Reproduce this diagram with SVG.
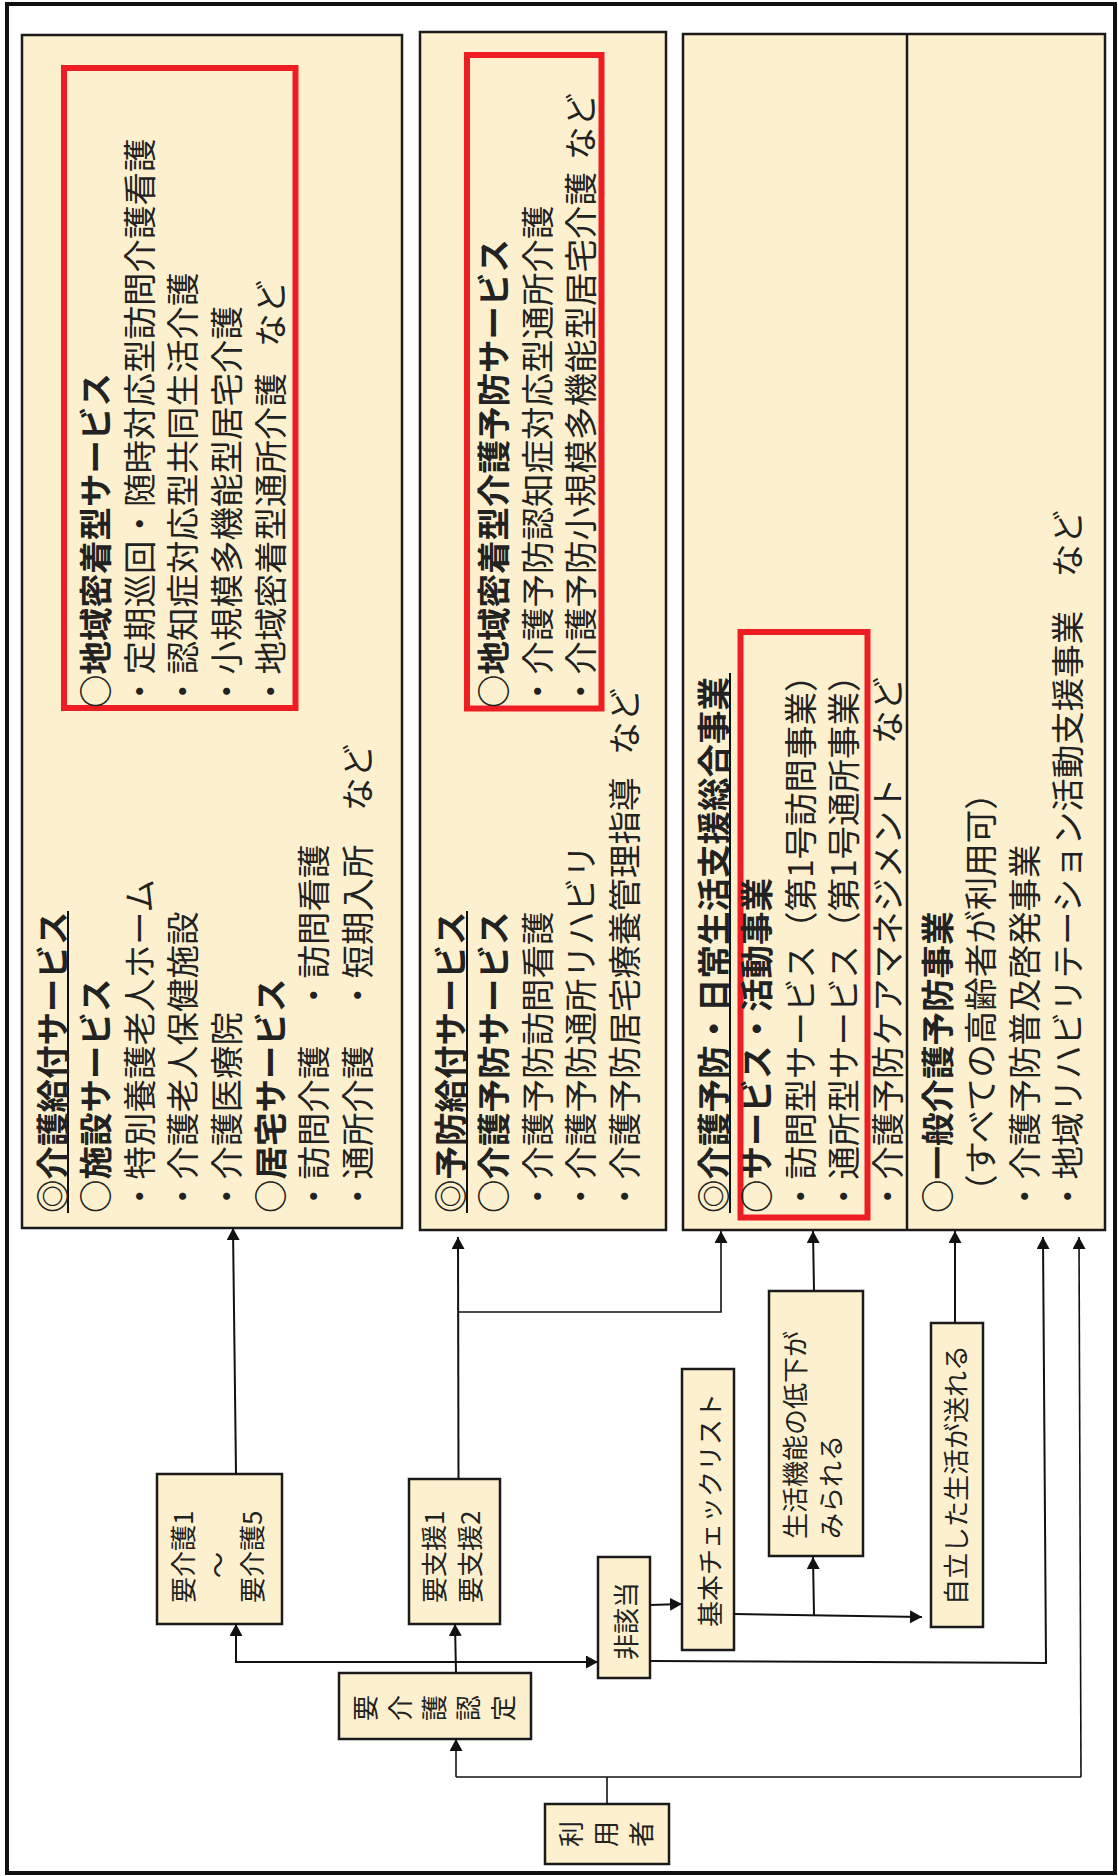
<svg xmlns="http://www.w3.org/2000/svg" width="1118" height="1876" viewBox="0 0 1118 1876">
<style>
.box{fill:#FCF0CE;stroke:#1a1a1a;stroke-width:2.5}
.red{fill:none;stroke:#EE1D23;stroke-width:6}
.t{font-family:"Noto Sans CJK JP","Noto Sans CJK SC",sans-serif;fill:#222}
.big{font-size:33.5px}
.sm{font-size:26px}
.b{font-weight:700}
.ul{stroke:#111;stroke-width:2}
#connectors path{fill:none;stroke:#111;stroke-width:2}
#connectors path.thin{stroke-width:1.6}
</style>
<defs>
<marker id="ah" viewBox="0 0 12 13" refX="12" refY="6.5" markerWidth="12" markerHeight="13" markerUnits="userSpaceOnUse" orient="auto"><path d="M0,0 L12,6.5 L0,13 z" fill="#111"/></marker>
</defs>
<rect x="0" y="0" width="1118" height="1876" fill="#fff"/>
<rect id="frame" x="7" y="4" width="1108" height="1869" fill="none" stroke="#111" stroke-width="4"/>

<g id="node-kaigo-kyufu">
<rect class="box" x="22" y="35" width="380" height="1193"/>
<rect class="red" x="64" y="68" width="231.5" height="640"/>
<line class="ul" x1="68" y1="911" x2="68" y2="1213"/>
<g transform="matrix(0,-1,1,0,0,1876)" class="t big">
<text x="663" y="64.5" class="b">◎介護給付サービス</text>
<text x="663" y="108.1" class="b">○施設サービス</text>
<text x="663" y="151.7">・特別養護老人ホーム</text>
<text x="663" y="195.3">・介護老人保健施設</text>
<text x="663" y="238.9">・介護医療院</text>
<text x="663" y="282.5" class="b">○居宅サービス</text>
<text x="663" y="326.1">・訪問介護　・訪問看護</text>
<text x="663" y="369.7">・通所介護　・短期入所　など</text>
<text x="1168" y="108.1" class="b">○地域密着型サービス</text>
<text x="1168" y="151.7">・定期巡回・随時対応型訪問介護看護</text>
<text x="1168" y="195.3">・認知症対応型共同生活介護</text>
<text x="1168" y="238.9">・小規模多機能型居宅介護</text>
<text x="1168" y="282.5">・地域密着型通所介護<tspan x="1529">など</tspan></text>
</g>
</g>

<g id="node-yobo-kyufu">
<rect class="box" x="420" y="32" width="246" height="1198"/>
<rect class="red" x="467" y="55" width="134.5" height="653.5"/>
<line class="ul" x1="467" y1="911" x2="467" y2="1213"/>
<g transform="matrix(0,-1,1,0,0,1876)" class="t big">
<text x="663" y="462.5" class="b">◎予防給付サービス</text>
<text x="663" y="506.1" class="b">○介護予防サービス</text>
<text x="663" y="549.7">・介護予防訪問看護</text>
<text x="663" y="593.3">・介護予防通所リハビリ</text>
<text x="663" y="636.9">・介護予防居宅療養管理指導<tspan x="1121">など</tspan></text>
<text x="1168" y="506.1" class="b">○地域密着型介護予防サービス</text>
<text x="1168" y="549.7">・介護予防認知症対応型通所介護</text>
<text x="1168" y="593.3">・介護予防小規模多機能型居宅介護<tspan x="1716">など</tspan></text>
</g>
</g>

<g id="node-sogo-jigyo">
<rect class="box" x="683" y="34" width="422" height="1196"/>
<line x1="907" y1="34" x2="907" y2="1230" stroke="#1a1a1a" stroke-width="2.5"/>
<rect class="red" x="740.5" y="632" width="127" height="585.5"/>
<line class="ul" x1="730" y1="673" x2="730" y2="1213"/>
<g transform="matrix(0,-1,1,0,0,1876)" class="t big">
<text x="663" y="725.5" class="b">◎介護予防・日常生活支援総合事業</text>
<text x="663" y="769.1" class="b">○サービス・活動事業</text>
<text x="663" y="812.7">・訪問型サービス（第1号訪問事業）</text>
<text x="663" y="856.3">・通所型サービス（第1号通所事業）</text>
<text x="663" y="899.9">・介護予防ケアマネジメント　など</text>
<text x="663" y="949.5" class="b">○一般介護予防事業</text>
<text x="668" y="993.1">（すべての高齢者が利用可）</text>
<text x="663" y="1036.7">・介護予防普及啓発事業</text>
<text x="663" y="1080.3">・地域リハビリテーション活動支援事業　など</text>
</g>
</g>

<g id="node-yokaigo">
<rect class="box" x="157" y="1474" width="125" height="150"/>
<g transform="matrix(0,-1,1,0,0,1876)" class="t sm">
<text x="273" y="193">要介護1</text>
<text x="298" y="228">～</text>
<text x="273" y="262">要介護5</text>
</g>
</g>

<g id="node-yoshien">
<rect class="box" x="409" y="1479" width="91" height="145"/>
<g transform="matrix(0,-1,1,0,0,1876)" class="t sm">
<text x="273" y="444">要支援1</text>
<text x="273" y="480">要支援2</text>
</g>
</g>

<g id="node-nintei">
<rect class="box" x="339" y="1673" width="192" height="66"/>
<g transform="matrix(0,-1,1,0,0,1876)" class="t sm" text-anchor="middle">
<text x="168" y="375">要</text>
<text x="168" y="410">介</text>
<text x="168" y="444">護</text>
<text x="168" y="478">認</text>
<text x="168" y="513">定</text>
</g>
</g>

<g id="node-riyosha">
<rect class="box" x="545" y="1804" width="124" height="60"/>
<g transform="matrix(0,-1,1,0,0,1876)" class="t sm" text-anchor="middle">
<text x="42" y="581">利</text>
<text x="42" y="616">用</text>
<text x="42" y="651">者</text>
</g>
</g>

<g id="node-higaito">
<rect class="box" x="598" y="1557" width="52" height="121"/>
<g transform="matrix(0,-1,1,0,0,1876)" class="t sm" text-anchor="middle">
<text x="255" y="636">非該当</text>
</g>
</g>

<g id="node-checklist">
<rect class="box" x="682" y="1369" width="52" height="281"/>
<g transform="matrix(0,-1,1,0,0,1876)" class="t sm" text-anchor="middle">
<text x="366" y="720">基本チェックリスト</text>
</g>
</g>

<g id="node-seikatsu">
<rect class="box" x="769" y="1291" width="94" height="265"/>
<g transform="matrix(0,-1,1,0,0,1876)" class="t sm">
<text x="337" y="805">生活機能の低下が</text>
<text x="337" y="841">みられる</text>
</g>
</g>

<g id="node-jiritsu">
<rect class="box" x="931" y="1323" width="52" height="304"/>
<g transform="matrix(0,-1,1,0,0,1876)" class="t sm" text-anchor="middle">
<text x="401" y="966">自立した生活が送れる</text>
</g>
</g>

<g id="connectors">
<path d="M236,1474 L233,1228" marker-end="url(#ah)"/>
<path d="M456,1673 L455,1624" marker-end="url(#ah)"/>
<path d="M456,1662 H236 V1624" marker-end="url(#ah)"/>
<path d="M456,1662 H598" marker-end="url(#ah)"/>
<path d="M458.5,1479 L458,1237" marker-end="url(#ah)"/>
<path class="thin" d="M458,1312 H721 V1231" marker-end="url(#ah)"/>
<path d="M650,1605 L682,1604" marker-end="url(#ah)"/>
<path d="M650,1661 L1046,1663 L1043,1237" marker-end="url(#ah)"/>
<path d="M734,1614 L922,1617" marker-end="url(#ah)"/>
<path d="M814,1615 L813,1557" marker-end="url(#ah)"/>
<path d="M814,1291 L813,1231" marker-end="url(#ah)"/>
<path d="M955,1323 V1231" marker-end="url(#ah)"/>
<path class="thin" d="M607,1804 V1777"/>
<path class="thin" d="M456,1777 H1081"/>
<path class="thin" d="M456,1777 V1739" marker-end="url(#ah)"/>
<path class="thin" d="M1081,1777 L1079,1237" marker-end="url(#ah)"/>
</g>
</svg>
